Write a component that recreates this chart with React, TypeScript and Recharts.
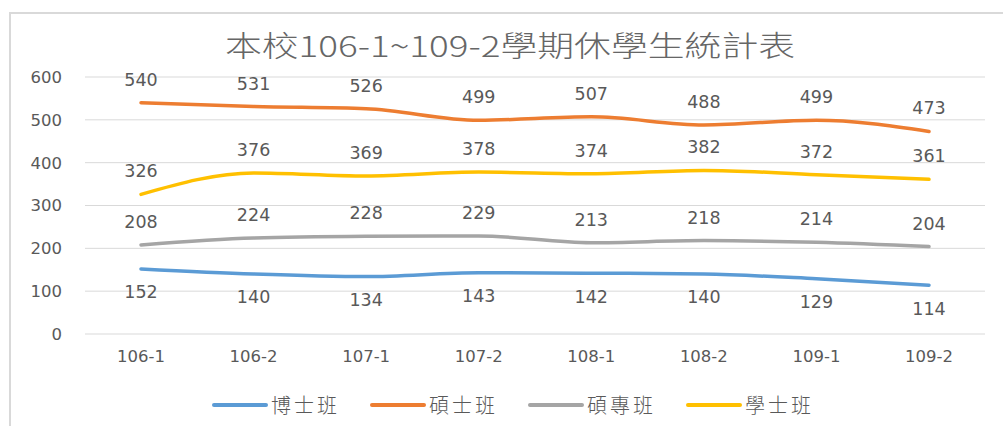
import { LineChart, Line, XAxis, YAxis, CartesianGrid, LabelList } from 'recharts';

const semesters = ['106-1', '106-2', '107-1', '107-2', '108-1', '108-2', '109-1', '109-2'];
const doctoral = [152, 140, 134, 143, 142, 140, 129, 114];
const master = [540, 531, 526, 499, 507, 488, 499, 473];
const inService = [208, 224, 228, 229, 213, 218, 214, 204];
const bachelor = [326, 376, 369, 378, 374, 382, 372, 361];
const yTicks = [0, 100, 200, 300, 400, 500, 600];

const series = [
  { key: 'doctoral', name: '博士班', color: '#5B9BD5', labelPos: 'bottom' as const },
  { key: 'master', name: '碩士班', color: '#ED7D31', labelPos: 'top' as const },
  { key: 'inService', name: '碩專班', color: '#A5A5A5', labelPos: 'top' as const },
  { key: 'bachelor', name: '學士班', color: '#FFC000', labelPos: 'top' as const },
];

const data = semesters.map((s, i) => ({
  semester: s,
  doctoral: doctoral[i],
  master: master[i],
  inService: inService[i],
  bachelor: bachelor[i],
}));

const textColor = '#595959';
const numFont = '"DejaVu Sans", Verdana, sans-serif';
const cjkFont = '"Noto Sans CJK TC", "Noto Sans", sans-serif';

export default function App() {
  return (
    <div
      style={{
        position: 'absolute',
        left: 0,
        top: 0,
        width: 1003,
        height: 426,
        overflow: 'hidden',
        background: '#fff',
      }}
    >
      <div
        style={{
          position: 'absolute',
          left: 9,
          top: 12,
          width: 1100,
          height: 500,
          borderLeft: '2px solid #d9d9d9',
          borderTop: '2px solid #d9d9d9',
        }}
      />
      <div
        style={{
          position: 'absolute',
          left: 0,
          top: 24,
          width: 1020,
          textAlign: 'center',
          fontFamily: cjkFont,
          fontWeight: 300,
          fontSize: 29,
          color: '#666',
          transform: 'scaleX(1.27)',
          transformOrigin: '510px 0',
          lineHeight: '40px',
        }}
      >
        本校106-1~109-2學期休學生統計表
      </div>
      <div style={{ position: 'absolute', left: 0, top: 0 }}>
        <LineChart
          width={1003}
          height={426}
          data={data}
          margin={{ top: 77, right: 18, bottom: 62, left: 25 }}
        >
          <CartesianGrid stroke="#d9d9d9" vertical={false} />
          <XAxis
            dataKey="semester"
            axisLine={false}
            tickLine={false}
            tickSize={0}
            tickMargin={16}
            height={30}
            padding={{ left: 56, right: 56 }}
            tick={{ fill: textColor, fontSize: 16.5, fontFamily: numFont }}
          />
          <YAxis
            domain={[0, 600]}
            ticks={yTicks}
            axisLine={false}
            tickLine={false}
            tickSize={0}
            tickMargin={23}
            width={60}
            tick={{ fill: textColor, fontSize: 16.5, fontFamily: numFont }}
          />
          {series.map((s) => (
            <Line
              key={s.key}
              type="monotone"
              dataKey={s.key}
              name={s.name}
              stroke={s.color}
              strokeWidth={3.5}
              strokeLinecap="round"
              dot={false}
              isAnimationActive={false}
            >
              <LabelList
                dataKey={s.key}
                position={s.labelPos}
                offset={17}
                fill={textColor}
                fontSize={17.5}
                fontFamily={numFont}
              />
            </Line>
          ))}
        </LineChart>
      </div>
      <div style={{ position: 'absolute', left: 212, top: 392, display: 'flex' }}>
        {series.map((s) => (
          <div key={s.key} style={{ width: 158, display: 'flex', alignItems: 'center' }}>
            <div style={{ width: 56, height: 4, borderRadius: 2, background: s.color }} />
            <span
              style={{
                marginLeft: 3,
                fontFamily: cjkFont,
                fontWeight: 300,
                fontSize: 20,
                letterSpacing: 3,
                color: textColor,
                lineHeight: '26px',
              }}
            >
              {s.name}
            </span>
          </div>
        ))}
      </div>
    </div>
  );
}
